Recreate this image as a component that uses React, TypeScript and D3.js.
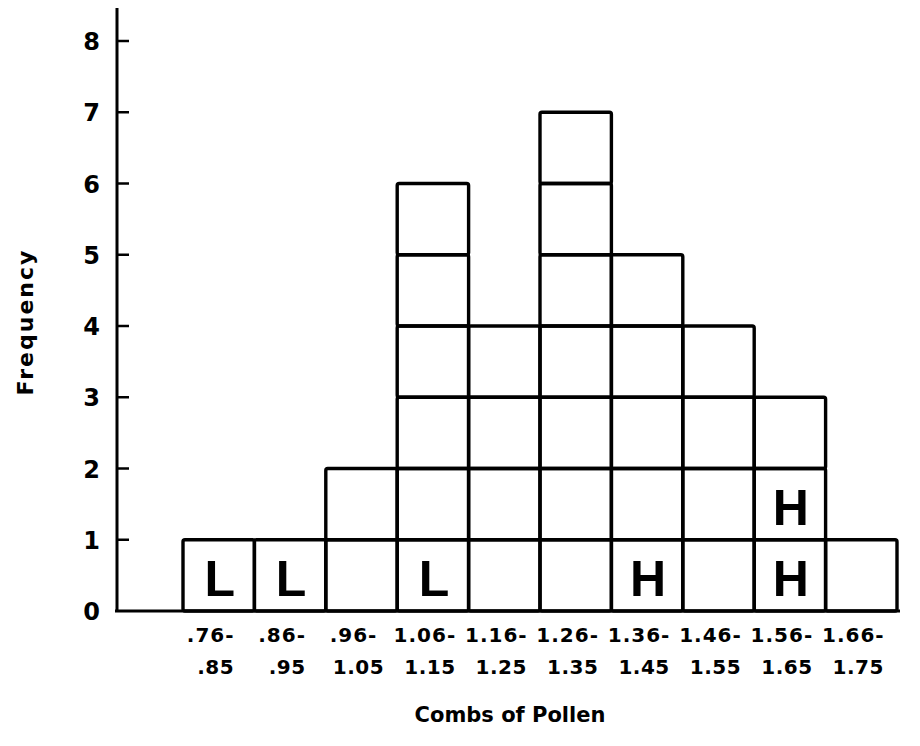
import React from "react";
import * as d3 from "d3";

const binStarts = [".76-", ".86-", ".96-", "1.06-", "1.16-", "1.26-", "1.36-", "1.46-", "1.56-", "1.66-"];
const binEnds = [".85", ".95", "1.05", "1.15", "1.25", "1.35", "1.45", "1.55", "1.65", "1.75"];
const frequencies = [1, 1, 2, 6, 4, 7, 5, 4, 3, 1];
const cellLabels: { bin: number; row: number; text: string }[] = [
  { bin: 0, row: 0, text: "L" },
  { bin: 1, row: 0, text: "L" },
  { bin: 3, row: 0, text: "L" },
  { bin: 6, row: 0, text: "H" },
  { bin: 8, row: 0, text: "H" },
  { bin: 8, row: 1, text: "H" },
];
const yTicks = [0, 1, 2, 3, 4, 5, 6, 7, 8];

export default function App() {
  const W = 920, H = 746;
  const x = d3.scaleLinear().domain([0, 10]).range([183, 897]);
  const y = d3.scaleLinear().domain([0, 8]).range([611, 41]);
  const font = "'DejaVu Sans', 'Liberation Sans', Arial, sans-serif";
  const fontNarrow = "'Liberation Sans', Arial, Helvetica, sans-serif";
  const cells: { bin: number; row: number }[] = [];
  frequencies.forEach((f, i) => {
    for (let r = 0; r < f; r++) cells.push({ bin: i, row: r });
  });
  return (
    <svg width={W} height={H} style={{ position: "absolute", left: 0, top: 0, background: "#fff" }}>
      <rect x={0} y={0} width={W} height={H} fill="#fff" />
      {cells.map((c, k) => (
        <rect
          key={k}
          x={x(c.bin)}
          y={y(c.row + 1)}
          width={x(c.bin + 1) - x(c.bin)}
          height={y(c.row) - y(c.row + 1)}
          fill="none"
          stroke="#000"
          strokeWidth={3.4}
          rx={2}
        />
      ))}
      {cellLabels.map((l, k) => (
        <text
          key={k}
          x={(x(l.bin) + x(l.bin + 1)) / 2 + 1}
          y={y(l.row) - 15}
          textAnchor="middle"
          fontFamily={fontNarrow}
          fontWeight="bold"
          fontSize={50}
        >
          {l.text}
        </text>
      ))}
      {/* axes */}
      <line x1={117} x2={117} y1={8} y2={612} stroke="#000" strokeWidth={3} />
      <line x1={115} x2={900} y1={611} y2={611} stroke="#000" strokeWidth={3} />
      {yTicks.map((t) => (
        <g key={t}>
          {t > 0 && <line x1={117} x2={129} y1={y(t)} y2={y(t)} stroke="#000" strokeWidth={2.5} />}
          <text
            x={100}
            y={y(t) + 9}
            textAnchor="end"
            fontFamily={font}
            fontWeight="bold"
            fontSize={24}
          >
            {t}
          </text>
        </g>
      ))}
      {binStarts.map((s, i) => (
        <g key={i}>
          <text
            x={(x(i) + x(i + 1)) / 2 - 8}
            y={642}
            textAnchor="middle"
            fontFamily={font}
            fontWeight="bold"
            fontSize={20}
            letterSpacing={1}
          >
            {s}
          </text>
          <text
            x={(x(i) + x(i + 1)) / 2 - 3}
            y={674}
            textAnchor="middle"
            fontFamily={font}
            fontWeight="bold"
            fontSize={20}
            letterSpacing={0.5}
          >
            {binEnds[i]}
          </text>
        </g>
      ))}
      <text
        transform="translate(33,322) rotate(-90)"
        textAnchor="middle"
        fontFamily={font}
        fontWeight="bold"
        fontSize={22}
        letterSpacing={2}
      >
        Frequency
      </text>
      <text x={510} y={722} textAnchor="middle" fontFamily={font} fontWeight="bold" fontSize={21}>
        Combs of Pollen
      </text>
    </svg>
  );
}
